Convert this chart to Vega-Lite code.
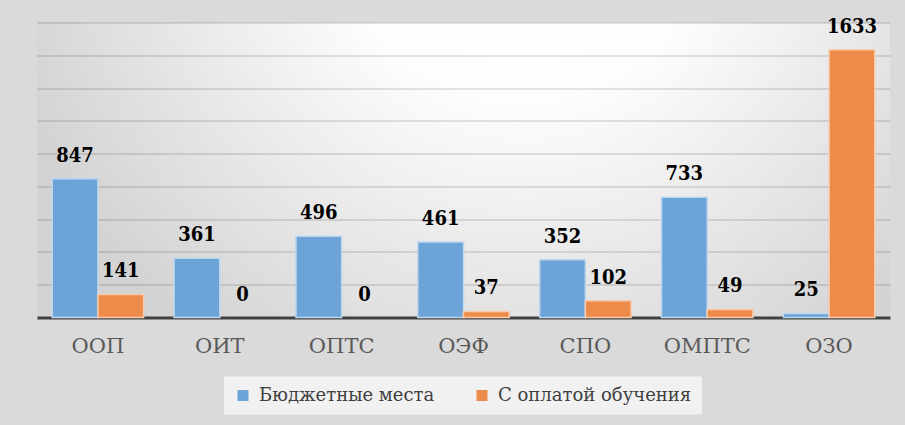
{
  "$schema": "https://vega.github.io/schema/vega-lite/v6.json",
  "width": 853,
  "height": 295,
  "autosize": {"type": "none"},
  "padding": {"left": 37, "top": 22.5, "right": 15, "bottom": 107.5},
  "background": "#dadada",
  "config": {
    "view": {
      "stroke": null,
      "fill": {
        "gradient": "radial",
        "x1": 0.57, "y1": 0.2, "r1": 0,
        "x2": 0.57, "y2": 0.2, "r2": 0.62,
        "stops": [
          {"offset": 0, "color": "#ffffff"},
          {"offset": 0.35, "color": "#fdfdfd"},
          {"offset": 1, "color": "#d3d3d3"}
        ]
      }
    },
    "font": "DejaVu Serif"
  },
  "data": {
    "values": [
      {"dept": "ООП", "series": "Бюджетные места", "value": 847},
      {"dept": "ООП", "series": "С оплатой обучения", "value": 141},
      {"dept": "ОИТ", "series": "Бюджетные места", "value": 361},
      {"dept": "ОИТ", "series": "С оплатой обучения", "value": 0},
      {"dept": "ОПТС", "series": "Бюджетные места", "value": 496},
      {"dept": "ОПТС", "series": "С оплатой обучения", "value": 0},
      {"dept": "ОЭФ", "series": "Бюджетные места", "value": 461},
      {"dept": "ОЭФ", "series": "С оплатой обучения", "value": 37},
      {"dept": "СПО", "series": "Бюджетные места", "value": 352},
      {"dept": "СПО", "series": "С оплатой обучения", "value": 102},
      {"dept": "ОМПТС", "series": "Бюджетные места", "value": 733},
      {"dept": "ОМПТС", "series": "С оплатой обучения", "value": 49},
      {"dept": "ОЗО", "series": "Бюджетные места", "value": 25},
      {"dept": "ОЗО", "series": "С оплатой обучения", "value": 1633}
    ]
  },
  "encoding": {
    "x": {
      "field": "dept",
      "type": "nominal",
      "sort": null,
      "scale": {"paddingInner": 0.25, "paddingOuter": 0.125},
      "axis": {
        "title": null,
        "labelAngle": 0,
        "labelFont": "DejaVu Serif",
        "labelFontSize": 21,
        "labelColor": "#595959",
        "labelPadding": 18,
        "ticks": false,
        "domainColor": "#404040",
        "domainWidth": 3,
        "grid": false
      }
    },
    "xOffset": {
      "field": "series",
      "type": "nominal",
      "sort": ["Бюджетные места", "С оплатой обучения"],
      "scale": {"paddingInner": 0, "paddingOuter": 0}
    },
    "y": {
      "field": "value",
      "type": "quantitative",
      "scale": {"domain": [0, 1800], "nice": false},
      "axis": {
        "title": null,
        "labels": false,
        "ticks": false,
        "domain": false,
        "values": [0, 200, 400, 600, 800, 1000, 1200, 1400, 1600, 1800],
        "grid": true,
        "gridColor": "#000000",
        "gridOpacity": 0.14,
        "gridWidth": 1.5
      }
    }
  },
  "layer": [
    {
      "mark": {"type": "bar", "strokeWidth": 1.5},
      "encoding": {
        "color": {
          "field": "series",
          "type": "nominal",
          "sort": ["Бюджетные места", "С оплатой обучения"],
          "scale": {"domain": ["Бюджетные места", "С оплатой обучения"], "range": ["#6ca4d8", "#ec8b4a"]},
          "legend": {
            "title": null,
            "orient": "none",
            "direction": "horizontal",
            "legendX": 187,
            "legendY": 354,
            "padding": 10,
            "fillColor": "#f1f1f1",
            "symbolType": "square",
            "symbolSize": 121,
            "symbolStrokeWidth": 0,
            "symbolOpacity": 1,
            "labelFont": "DejaVu Serif",
            "labelFontSize": 18,
            "labelColor": "#404040",
            "labelOffset": 7,
            "columnPadding": 38,
            "labelLimit": 400
          }
        },
        "stroke": {
          "field": "series",
          "type": "nominal",
          "scale": {"domain": ["Бюджетные места", "С оплатой обучения"], "range": ["#bdd7ee", "#f8cbad"]},
          "legend": null
        },
        "strokeOpacity": {
          "condition": {"test": "datum.value === 0", "value": 0},
          "value": 1
        }
      }
    },
    {
      "mark": {
        "type": "text",
        "baseline": "alphabetic",
        "align": "center",
        "dy": -17,
        "font": "DejaVu Serif Condensed",
        "fontSize": 20,
        "fontWeight": "bold",
        "color": "#000000"
      },
      "encoding": {
        "text": {"field": "value", "type": "quantitative"}
      }
    }
  ]
}
